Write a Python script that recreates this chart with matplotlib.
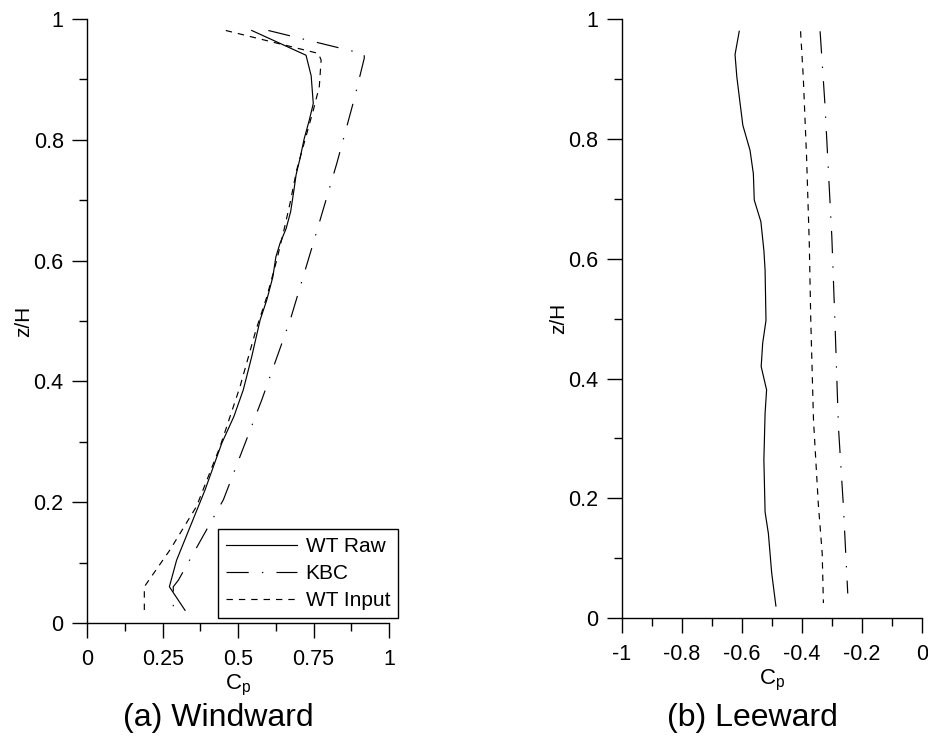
import matplotlib
matplotlib.use("Agg")
import matplotlib.pyplot as plt
from matplotlib.ticker import MultipleLocator

plt.rcParams['font.family'] = ['Liberation Sans', 'DejaVu Sans']
plt.rcParams['lines.scale_dashes'] = False

# ---- Windward data (Cp, z/H) ----
ww_raw_cp = [0.545, 0.725, 0.742, 0.749, 0.736, 0.719, 0.705, 0.692, 0.685, 0.674, 0.659, 0.639,
             0.625, 0.615, 0.595, 0.573, 0.545, 0.517, 0.486, 0.446, 0.390, 0.296, 0.272, 0.324]
ww_raw_z = [0.981, 0.940, 0.906, 0.860, 0.833, 0.802, 0.769, 0.742, 0.717, 0.681, 0.653, 0.629,
            0.606, 0.573, 0.535, 0.502, 0.441, 0.386, 0.342, 0.298, 0.220, 0.104, 0.060, 0.021]

ww_kbc_cp = [0.600, 0.918, 0.918, 0.884, 0.827, 0.749, 0.674, 0.578, 0.451, 0.302, 0.285, 0.285]
ww_kbc_z = [0.981, 0.942, 0.935, 0.866, 0.761, 0.629, 0.504, 0.369, 0.204, 0.071, 0.060, 0.025]

ww_inp_cp = [0.459, 0.766, 0.775, 0.769, 0.749, 0.694, 0.672, 0.652, 0.628, 0.595, 0.559, 0.506,
             0.440, 0.362, 0.274, 0.189, 0.189]
ww_inp_z = [0.981, 0.943, 0.932, 0.888, 0.849, 0.750, 0.695, 0.651, 0.601, 0.540, 0.485, 0.391,
            0.292, 0.193, 0.121, 0.060, 0.021]

# ---- Leeward data (Cp, z/H) ----
lw_raw_cp = [-0.609, -0.623, -0.617, -0.606, -0.597, -0.573, -0.562, -0.559, -0.537, -0.527, -0.523,
             -0.520, -0.531, -0.536, -0.518, -0.523, -0.527, -0.523, -0.512, -0.501, -0.487]
lw_raw_z = [0.980, 0.941, 0.904, 0.859, 0.823, 0.781, 0.742, 0.698, 0.662, 0.614, 0.581,
            0.497, 0.459, 0.420, 0.381, 0.342, 0.264, 0.177, 0.141, 0.075, 0.020]

lw_kbc_cp = [-0.340, -0.324, -0.301, -0.290, -0.279, -0.263, -0.248]
lw_kbc_z = [0.980, 0.859, 0.637, 0.486, 0.319, 0.191, 0.041]

lw_inp_cp = [-0.405, -0.396, -0.385, -0.376, -0.371, -0.362, -0.346, -0.333, -0.329]
lw_inp_z = [0.980, 0.904, 0.770, 0.626, 0.497, 0.331, 0.191, 0.108, 0.025]

series_labels = ["WT Raw", "KBC", "WT Input"]
ww_xticks = [0, 0.25, 0.5, 0.75, 1]
ww_xticklabels = ["0", "0.25", "0.5", "0.75", "1"]
lw_xticks = [-1, -0.8, -0.6, -0.4, -0.2, 0]
lw_xticklabels = ["-1", "-0.8", "-0.6", "-0.4", "-0.2", "0"]
yticks = [0, 0.2, 0.4, 0.6, 0.8, 1]
yticklabels = ["0", "0.2", "0.4", "0.6", "0.8", "1"]
titles = ["(a) Windward", "(b) Leeward"]

W, H = 929, 736
fig = plt.figure(figsize=(W / 100, H / 100), dpi=100)

ax1 = fig.add_axes([87.3 / W, 1 - 623 / H, (389 - 87.3) / W, (623 - 19) / H])
ax2 = fig.add_axes([621.7 / W, 1 - 618 / H, (922.3 - 621.7) / W, (618 - 19.3) / H])

lw = 0.85
solid = dict(color='black', lw=lw, linestyle='-')
dashdot = dict(color='black', lw=lw, dashes=(16, 9.5, 1.0, 9.5))
dashed = dict(color='black', lw=lw, dashes=(4.6, 4.3))

ax1.plot(ww_raw_cp, ww_raw_z, label=series_labels[0], **solid)
ax1.plot(ww_kbc_cp, ww_kbc_z, label=series_labels[1], **dashdot)
ax1.plot(ww_inp_cp, ww_inp_z, label=series_labels[2], **dashed)

ax2.plot(lw_raw_cp, lw_raw_z, **solid)
ax2.plot(lw_kbc_cp, lw_kbc_z, **dashdot)
ax2.plot(lw_inp_cp, lw_inp_z, **dashed)

tick_fs = 15.5
for ax, xt, xtl, xlim, xminor in [(ax1, ww_xticks, ww_xticklabels, (0, 1), 0.125),
                                   (ax2, lw_xticks, lw_xticklabels, (-1, 0), 0.1)]:
    ax.set_xlim(*xlim)
    ax.set_ylim(0, 1)
    ax.spines['top'].set_visible(False)
    ax.spines['right'].set_visible(False)
    for s in ['left', 'bottom']:
        ax.spines[s].set_linewidth(1.0)
        ax.spines[s].set_color('black')
    ax.set_xticks(xt)
    ax.set_xticklabels(xtl)
    ax.xaxis.set_minor_locator(MultipleLocator(xminor))
    ax.set_yticks(yticks)
    ax.set_yticklabels(yticklabels)
    ax.yaxis.set_minor_locator(MultipleLocator(0.1))
    ax.tick_params(axis='both', which='major', direction='out', length=11, width=1.0,
                   labelsize=tick_fs, colors='black')
    ax.tick_params(axis='x', which='major', pad=8)
    ax.tick_params(axis='y', which='major', pad=6)
    ax.tick_params(axis='both', which='minor', direction='out', length=6, width=1.0)
    ax.set_xlabel(r'C$_\mathregular{p}$', fontsize=16, labelpad=2)
    ax.set_ylabel('z/H', fontsize=15, labelpad=0)

leg = ax1.legend(loc='lower right', bbox_to_anchor=(1.031, 0.008), fontsize=15,
                 frameon=True, fancybox=False, edgecolor='black', framealpha=1,
                 handlelength=3.4, handletextpad=0.4, labelspacing=0.38,
                 borderpad=0.4, borderaxespad=0.0)
leg.get_frame().set_linewidth(1.0)

fig.text(218 / W, 1 - 726 / H, titles[0], fontsize=23, ha='center', va='baseline')
fig.text(752 / W, 1 - 726 / H, titles[1], fontsize=23, ha='center', va='baseline')

fig.savefig('out.png', dpi=100)
